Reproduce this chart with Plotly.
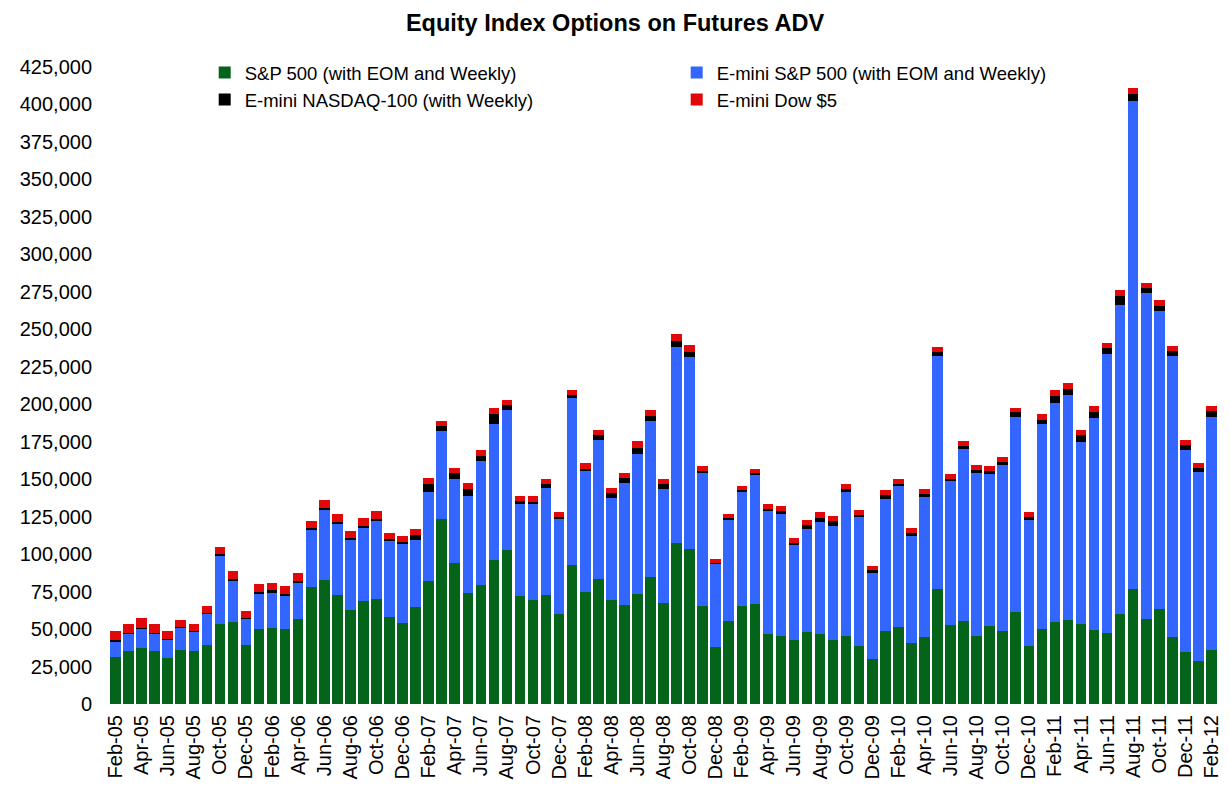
import plotly.graph_objects as go

months = []
mnames = ["Jan", "Feb", "Mar", "Apr", "May", "Jun", "Jul", "Aug", "Sep", "Oct", "Nov", "Dec"]
for yr in range(5, 13):
    for m in mnames:
        months.append(f"{m}-{yr:02d}")
months = months[months.index("Feb-05"):months.index("Feb-12") + 1]

# values in thousands of contracts (ADV)
sp500 = [31.3, 35.3, 37.5, 35.3, 30.6, 36.2, 35.3, 39.1, 53.5, 55.0, 39.1, 50.2,
         50.6, 50.2, 56.9, 78.0, 82.5, 72.4, 62.9, 68.4, 69.8, 58.0, 54.2, 64.7,
         81.8, 123.2, 94.0, 74.2, 79.6, 96.3, 102.9, 71.8, 69.1, 72.5, 60.2, 92.5,
         74.4, 83.6, 69.6, 65.8, 73.1, 84.7, 67.3, 107.5, 103.6, 65.1, 37.9, 55.3,
         65.1, 66.4, 46.4, 45.7, 42.8, 48.0, 46.9, 42.8, 45.7, 38.6, 29.7, 48.9,
         51.3, 40.8, 44.6, 76.9, 52.4, 55.3, 45.7, 51.8, 48.5, 61.5, 38.6, 50.2,
         54.6, 56.0, 53.1, 49.3, 47.3, 59.8, 76.9, 56.6, 63.3, 44.4, 34.8, 29.0,
         36.3]
emini_sp = [10.7, 11.6, 12.9, 12.0, 12.7, 15.0, 13.1, 21.1, 45.7, 27.5, 18.0, 23.8,
            24.0, 22.5, 24.3, 37.8, 47.1, 47.9, 47.0, 49.6, 52.7, 51.2, 53.2, 44.9,
            59.6, 58.9, 56.3, 64.8, 82.5, 90.7, 93.1, 61.4, 64.5, 71.9, 63.5, 111.7,
            81.3, 92.8, 67.8, 81.6, 93.5, 104.2, 76.2, 130.8, 128.0, 89.0, 55.7, 67.7,
            76.8, 86.8, 82.8, 81.3, 63.0, 68.9, 74.5, 75.7, 95.7, 86.2, 57.6, 87.9,
            93.9, 71.2, 93.5, 155.4, 96.4, 115.1, 108.4, 101.4, 110.8, 130.3, 84.1, 136.4,
            146.5, 150.3, 121.9, 141.4, 186.3, 206.6, 325.3, 217.9, 198.7, 187.5, 135.0, 125.7,
            155.5]
emini_ndx = [0.4, 0.4, 0.4, 0.4, 0.4, 0.4, 0.4, 0.5, 0.6, 1.0, 0.6, 1.0,
             1.2, 1.0, 1.2, 1.5, 1.2, 1.2, 1.0, 1.0, 1.2, 1.0, 1.0, 3.4,
             5.6, 3.2, 3.8, 4.4, 3.3, 6.7, 3.3, 2.0, 1.5, 2.2, 1.1, 1.8,
             1.1, 2.9, 3.6, 3.4, 4.2, 3.1, 3.1, 4.0, 3.3, 1.4, 0.8, 1.0,
             1.2, 1.0, 1.1, 1.5, 1.8, 2.7, 2.9, 3.5, 2.2, 1.5, 1.8, 2.9,
             1.8, 2.2, 2.2, 2.6, 1.5, 1.5, 1.8, 2.0, 2.2, 2.7, 2.4, 2.9,
             4.4, 4.1, 4.3, 4.0, 3.8, 5.8, 4.9, 2.9, 3.5, 3.4, 2.9, 2.9,
             3.5]
emini_dow = [6.5, 6.2, 6.6, 5.7, 5.0, 4.4, 4.4, 4.4, 5.0, 5.0, 4.5, 4.8,
             5.0, 5.0, 4.8, 5.0, 5.0, 5.0, 4.8, 5.0, 5.0, 4.0, 4.0, 3.8,
             3.8, 3.5, 3.6, 4.0, 3.8, 3.8, 3.8, 3.3, 3.4, 3.7, 3.3, 3.8,
             3.8, 3.3, 3.3, 3.3, 4.5, 4.0, 3.7, 4.8, 4.9, 3.3, 2.5, 2.6,
             2.6, 2.8, 2.9, 3.4, 3.3, 3.4, 3.8, 3.6, 3.3, 3.4, 3.3, 3.3,
             3.3, 3.3, 3.3, 3.4, 2.9, 3.4, 3.6, 3.4, 3.3, 3.3, 2.9, 3.8,
             3.7, 3.8, 3.8, 4.1, 3.5, 3.8, 3.8, 3.5, 3.8, 3.5, 3.2, 2.9,
             3.5]

series = [
    ("S&P 500 (with EOM and Weekly)", sp500, "#04641A"),
    ("E-mini S&P 500 (with EOM and Weekly)", emini_sp, "#3366FF"),
    ("E-mini NASDAQ-100 (with Weekly)", emini_ndx, "#000000"),
    ("E-mini Dow $5", emini_dow, "#E00808"),
]

fig = go.Figure()
for name, vals, color in series:
    fig.add_trace(go.Bar(
        x=months, y=[v * 1000 for v in vals], name=name,
        marker=dict(color=color, line=dict(width=0)),
    ))

tick_labels = months[::2]

fig.update_layout(
    width=1214, height=772,
    barmode="stack", bargap=0.19,
    paper_bgcolor="white", plot_bgcolor="white",
    margin=dict(l=101, r=0, t=59, b=76, pad=0),
    font=dict(family="Liberation Sans, Arial, sans-serif", color="black"),
    title=dict(text="<b>Equity Index Options on Futures ADV</b>",
               x=0.5, xanchor="center", y=0.981, yanchor="middle",
               font=dict(size=23.5, color="black")),
    showlegend=True,
    legend=dict(orientation="h", x=0.0863, xanchor="left", y=1.0204, yanchor="top",
                entrywidth=427, entrywidthmode="pixels",
                traceorder="normal", font=dict(size=18.5),
                bgcolor="rgba(0,0,0,0)", itemclick=False),
    xaxis=dict(type="category", tickmode="array", tickvals=tick_labels,
               ticktext=tick_labels, tickangle=-90, tickfont=dict(size=20),
               ticklabelstandoff=6,
               showgrid=False, showline=False, ticks="", ticklen=0),
    yaxis=dict(range=[0, 425000], dtick=25000, tick0=0, tickformat=",",
               tickfont=dict(size=20), ticklabelstandoff=16,
               showgrid=False, showline=False,
               zeroline=False, ticks=""),
)

fig.write_html("out.html")
